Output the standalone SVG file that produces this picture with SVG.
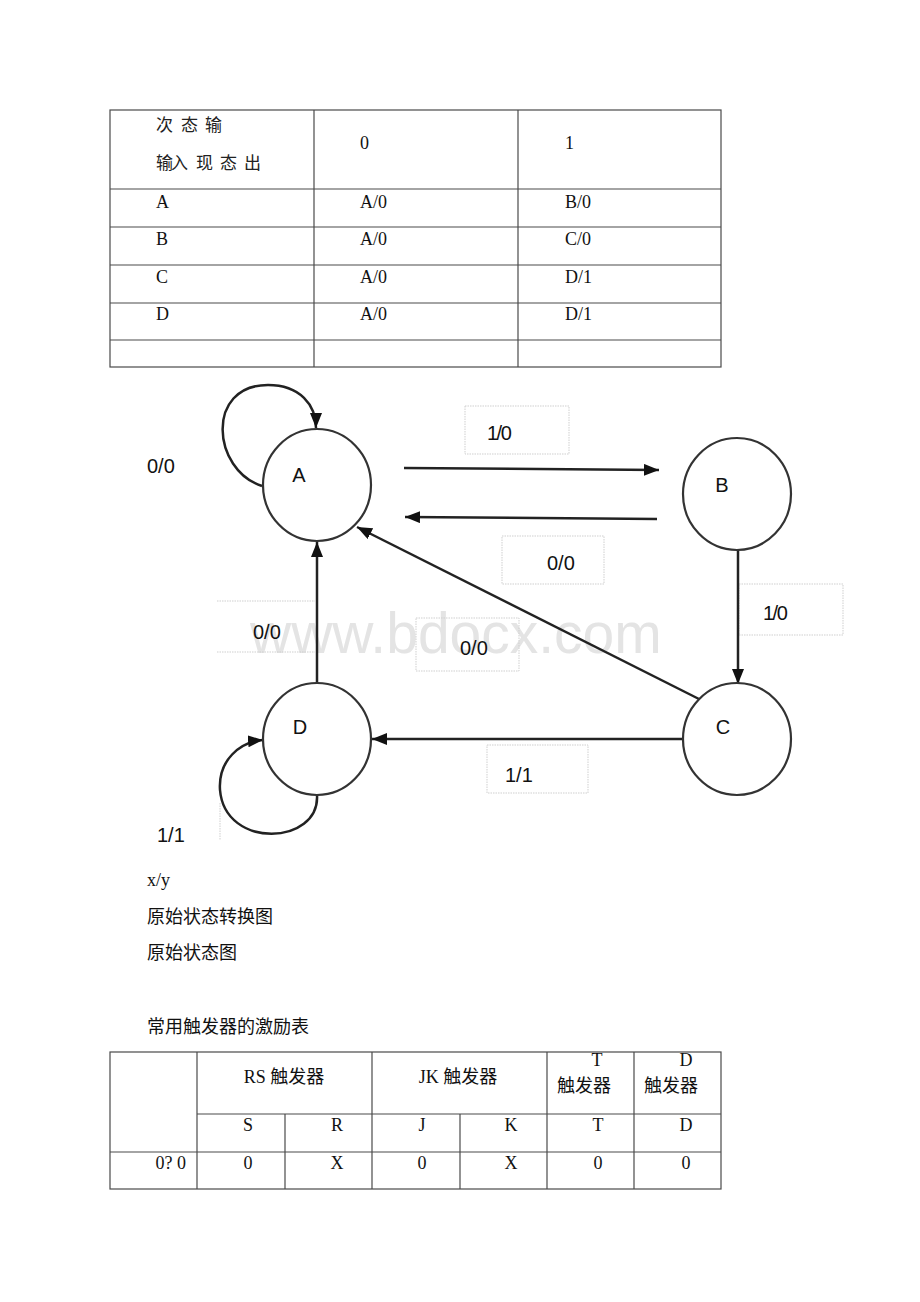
<svg xmlns="http://www.w3.org/2000/svg" width="920" height="1302" viewBox="0 0 920 1302">
<style>
.tl{stroke:#4a4a4a;stroke-width:1.2;fill:none}
.ts{font-family:"Liberation Serif","Noto Sans CJK SC",serif;font-size:18px;fill:#111}
.cj{font-family:"Liberation Serif","Noto Sans CJK SC",serif;font-size:17px;fill:#222}
.lbl{font-family:"Liberation Sans",Arial,sans-serif;font-size:20px;fill:#111}
.node{fill:#fff;stroke:#333;stroke-width:2.2}
.edge{stroke:#222;stroke-width:2.5;fill:none}
.box{fill:none;stroke:#cfcfcf;stroke-width:1;stroke-dasharray:1.5 1}
.wm{font-family:"Liberation Sans",Arial,sans-serif;font-size:57px;fill:#e4e4e4}
</style>
<defs>
<marker id="ah" markerUnits="userSpaceOnUse" markerWidth="16" markerHeight="12" refX="15" refY="6" orient="auto">
<path d="M0,0 L15,6 L0,12 Z" fill="#111"/>
</marker>
</defs>
<rect width="920" height="1302" fill="#fff"/>

<g id="state-table">
<rect class="tl" x="110" y="110" width="611" height="257"/>
<line class="tl" x1="110" y1="189" x2="721" y2="189"/>
<line class="tl" x1="110" y1="227" x2="721" y2="227"/>
<line class="tl" x1="110" y1="265" x2="721" y2="265"/>
<line class="tl" x1="110" y1="303" x2="721" y2="303"/>
<line class="tl" x1="110" y1="340" x2="721" y2="340"/>
<line class="tl" x1="314" y1="110" x2="314" y2="367"/>
<line class="tl" x1="518" y1="110" x2="518" y2="367"/>
<text class="cj" y="131"><tspan x="156">次</tspan><tspan x="181">态</tspan><tspan x="205">输</tspan></text>
<text class="cj" y="169"><tspan x="156">输</tspan><tspan x="171">入</tspan><tspan x="196">现</tspan><tspan x="220">态</tspan><tspan x="244">出</tspan></text>
<text class="ts" x="360" y="149">0</text>
<text class="ts" x="565" y="149">1</text>
<text class="ts" x="156" y="208">A</text><text class="ts" x="360" y="208">A/0</text><text class="ts" x="565" y="208">B/0</text>
<text class="ts" x="156" y="245">B</text><text class="ts" x="360" y="245">A/0</text><text class="ts" x="565" y="245">C/0</text>
<text class="ts" x="156" y="283">C</text><text class="ts" x="360" y="283">A/0</text><text class="ts" x="565" y="283">D/1</text>
<text class="ts" x="156" y="320">D</text><text class="ts" x="360" y="320">A/0</text><text class="ts" x="565" y="320">D/1</text>
</g>

<text class="wm" x="250" y="653">www.bdocx.com</text>

<g id="label-boxes">
<rect class="box" x="465" y="406" width="104" height="48"/>
<rect class="box" x="502" y="536" width="102" height="48"/>
<rect class="box" x="739" y="584" width="104" height="51"/>
<line class="box" x1="217" y1="601" x2="315" y2="601"/>
<line class="box" x1="217" y1="652" x2="315" y2="652"/>
<rect class="box" x="416" y="618" width="103" height="53"/>
<rect class="box" x="487" y="745" width="101" height="48"/>
<line class="box" x1="220" y1="803" x2="220" y2="840"/>
</g>

<g id="connectors">
<path class="edge" d="M262,486 C212,470 205,385 268,385 C300,385 316,405 316,428" marker-end="url(#ah)"/>
<line class="edge" x1="404" y1="468" x2="659" y2="470" marker-end="url(#ah)"/>
<line class="edge" x1="657" y1="519" x2="405" y2="517" marker-end="url(#ah)"/>
<line class="edge" x1="738" y1="550" x2="738" y2="684" marker-end="url(#ah)"/>
<line class="edge" x1="684" y1="739" x2="372" y2="739" marker-end="url(#ah)"/>
<line class="edge" x1="317" y1="684" x2="317" y2="542" marker-end="url(#ah)"/>
<line class="edge" x1="699" y1="699" x2="357" y2="527" marker-end="url(#ah)"/>
<path class="edge" d="M317,795 C320,845 225,850 220,790 C218,760 240,742 263,740" marker-end="url(#ah)"/>
<text class="lbl" x="147" y="473">0/0</text>
<text class="lbl" x="487" y="440" letter-spacing="-1.5">1/0</text>
<text class="lbl" x="547" y="570">0/0</text>
<text class="lbl" x="763" y="620" letter-spacing="-1.5">1/0</text>
<text class="lbl" x="253" y="639">0/0</text>
<text class="lbl" x="460" y="655">0/0</text>
<text class="lbl" x="505" y="782">1/1</text>
<text class="lbl" x="157" y="842">1/1</text>
</g>

<g id="node-A"><ellipse class="node" cx="317" cy="485" rx="54" ry="56"/><text class="lbl" x="299" y="482" text-anchor="middle">A</text></g>
<g id="node-B"><ellipse class="node" cx="737" cy="494" rx="54" ry="56"/><text class="lbl" x="722" y="492" text-anchor="middle">B</text></g>
<g id="node-C"><ellipse class="node" cx="737" cy="739" rx="54" ry="56"/><text class="lbl" x="723" y="734" text-anchor="middle">C</text></g>
<g id="node-D"><ellipse class="node" cx="317" cy="739" rx="54" ry="56"/><text class="lbl" x="300" y="734" text-anchor="middle">D</text></g>

<g id="captions">
<text class="ts" x="147" y="886">x/y</text>
<text class="ts" x="147" y="923">原始状态转换图</text>
<text class="ts" x="147" y="959">原始状态图</text>
<text class="ts" x="147" y="1033">常用触发器的激励表</text>
</g>

<g id="excitation-table">
<rect class="tl" x="110" y="1052" width="611" height="137"/>
<line class="tl" x1="197" y1="1114" x2="721" y2="1114"/>
<line class="tl" x1="110" y1="1152" x2="721" y2="1152"/>
<line class="tl" x1="197" y1="1052" x2="197" y2="1189"/>
<line class="tl" x1="372" y1="1052" x2="372" y2="1189"/>
<line class="tl" x1="547" y1="1052" x2="547" y2="1189"/>
<line class="tl" x1="634" y1="1052" x2="634" y2="1189"/>
<line class="tl" x1="285" y1="1114" x2="285" y2="1189"/>
<line class="tl" x1="460" y1="1114" x2="460" y2="1189"/>
<text class="ts" x="284" y="1083" text-anchor="middle">RS 触发器</text>
<text class="ts" x="458" y="1083" text-anchor="middle">JK 触发器</text>
<text class="ts" x="597" y="1066" text-anchor="middle">T</text>
<text class="ts" x="584" y="1092" text-anchor="middle">触发器</text>
<text class="ts" x="686" y="1066" text-anchor="middle">D</text>
<text class="ts" x="671" y="1092" text-anchor="middle">触发器</text>
<text class="ts" x="248" y="1131" text-anchor="middle">S</text>
<text class="ts" x="337" y="1131" text-anchor="middle">R</text>
<text class="ts" x="422" y="1131" text-anchor="middle">J</text>
<text class="ts" x="511" y="1131" text-anchor="middle">K</text>
<text class="ts" x="598" y="1131" text-anchor="middle">T</text>
<text class="ts" x="686" y="1131" text-anchor="middle">D</text>
<text class="ts" x="186" y="1169" text-anchor="end">0? 0</text>
<text class="ts" x="248" y="1169" text-anchor="middle">0</text>
<text class="ts" x="337" y="1169" text-anchor="middle">X</text>
<text class="ts" x="422" y="1169" text-anchor="middle">0</text>
<text class="ts" x="511" y="1169" text-anchor="middle">X</text>
<text class="ts" x="598" y="1169" text-anchor="middle">0</text>
<text class="ts" x="686" y="1169" text-anchor="middle">0</text>
</g>
</svg>
